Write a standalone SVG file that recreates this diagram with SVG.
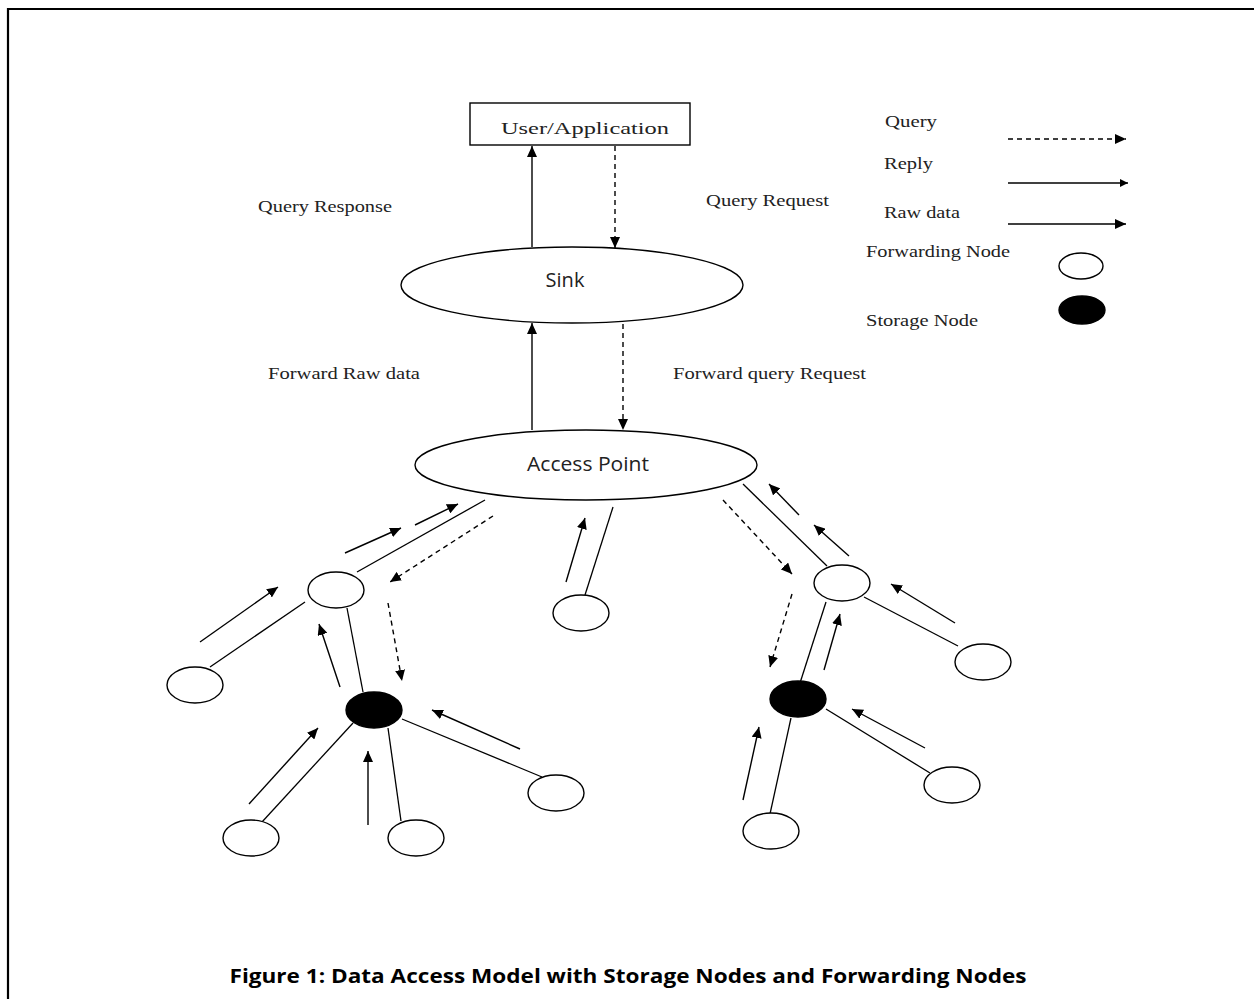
<svg xmlns="http://www.w3.org/2000/svg" width="1254" height="999" viewBox="0 0 1254 999">
<defs>
<marker id="ah" markerUnits="userSpaceOnUse" markerWidth="12" markerHeight="10" refX="11" refY="5" orient="auto">
<path d="M0,0 L11,5 L0,10 Z" fill="#000"/>
</marker>
<marker id="ahs" markerUnits="userSpaceOnUse" markerWidth="9" markerHeight="8" refX="8" refY="4" orient="auto">
<path d="M0,0 L8,4 L0,8 Z" fill="#000"/>
</marker>
</defs>
<style>
.ln{stroke:#000;stroke-width:1.3;fill:none}
.ar{stroke:#000;stroke-width:1.4;fill:none;marker-end:url(#ah)}
.das{stroke:#000;stroke-width:1.4;fill:none;stroke-dasharray:5,4;marker-end:url(#ah)}
.node{fill:#fff;stroke:#000;stroke-width:1.4}
.store{fill:#000;stroke:#000;stroke-width:1.4}
.lbl{font-family:"Liberation Serif",serif;font-size:17px;fill:#222}
.sans{font-family:"Open Sans","Liberation Sans",sans-serif;font-size:20px;fill:#222}
.cap{font-family:"Open Sans","Liberation Sans",sans-serif;font-size:20px;font-weight:bold;fill:#000}
</style>
<rect width="1254" height="999" fill="#fff"/>
<path d="M8,999 L8,9 L1254,9" fill="none" stroke="#000" stroke-width="2.2"/>

<g id="user-application">
<rect x="470" y="103" width="220" height="42" fill="#fff" stroke="#000" stroke-width="1.4"/>
<text x="585" y="134" class="lbl" font-size="21" text-anchor="middle" textLength="168" lengthAdjust="spacingAndGlyphs">User/Application</text>
</g>
<g id="sink">
<ellipse cx="572" cy="285" rx="171" ry="38" class="node"/>
<text x="565" y="287" class="sans" text-anchor="middle">Sink</text>
</g>
<g id="access-point">
<ellipse cx="586" cy="465" rx="171" ry="35" class="node"/>
<text x="588" y="471" class="sans" text-anchor="middle" textLength="122" lengthAdjust="spacingAndGlyphs">Access Point</text>
</g>

<g id="labels">
<text x="258" y="212" class="lbl" textLength="134" lengthAdjust="spacingAndGlyphs">Query Response</text>
<text x="706" y="206" class="lbl" textLength="123" lengthAdjust="spacingAndGlyphs">Query Request</text>
<text x="268" y="379" class="lbl" textLength="152" lengthAdjust="spacingAndGlyphs">Forward Raw data</text>
<text x="673" y="379" class="lbl" textLength="193" lengthAdjust="spacingAndGlyphs">Forward query Request</text>
</g>

<g id="legend">
<text x="885" y="127" class="lbl" textLength="52" lengthAdjust="spacingAndGlyphs">Query</text>
<line x1="1008" y1="139" x2="1126" y2="139" class="das"/>
<text x="884" y="169" class="lbl" textLength="49" lengthAdjust="spacingAndGlyphs">Reply</text>
<line x1="1008" y1="183" x2="1128" y2="183" stroke="#000" stroke-width="1.4" marker-end="url(#ahs)"/>
<text x="884" y="218" class="lbl" textLength="76" lengthAdjust="spacingAndGlyphs">Raw data</text>
<line x1="1008" y1="224" x2="1126" y2="224" class="ar"/>
<text x="866" y="257" class="lbl" textLength="144" lengthAdjust="spacingAndGlyphs">Forwarding Node</text>
<ellipse cx="1081" cy="266" rx="22" ry="13" class="node"/>
<text x="866" y="326" class="lbl" textLength="112" lengthAdjust="spacingAndGlyphs">Storage Node</text>
<ellipse cx="1082" cy="310" rx="23" ry="14" class="store"/>
</g>

<g id="connectors">
<line x1="532" y1="247" x2="532" y2="146" class="ar"/>
<line x1="615" y1="146" x2="615" y2="248" class="das"/>
<line x1="532" y1="430" x2="532" y2="323" class="ar"/>
<line x1="623" y1="324" x2="623" y2="430" class="das"/>
<line x1="357" y1="572" x2="485" y2="500" class="ln"/>
<line x1="305" y1="602" x2="210" y2="667" class="ln"/>
<line x1="347" y1="608" x2="363" y2="692" class="ln"/>
<line x1="402" y1="719" x2="542" y2="777" class="ln"/>
<line x1="353" y1="723" x2="262" y2="822" class="ln"/>
<line x1="388" y1="728" x2="401" y2="821" class="ln"/>
<line x1="613" y1="507" x2="585" y2="595" class="ln"/>
<line x1="415" y1="525" x2="458" y2="504" class="ar"/>
<line x1="345" y1="553" x2="401" y2="528" class="ar"/>
<line x1="493" y1="516" x2="390" y2="582" class="das"/>
<line x1="200" y1="642" x2="278" y2="587" class="ar"/>
<line x1="340" y1="687" x2="319" y2="624" class="ar"/>
<line x1="388" y1="603" x2="402" y2="681" class="das"/>
<line x1="520" y1="749" x2="432" y2="710" class="ar"/>
<line x1="249" y1="804" x2="318" y2="728" class="ar"/>
<line x1="368" y1="825" x2="368" y2="751" class="ar"/>
<line x1="566" y1="582" x2="585" y2="518" class="ar"/>
<line x1="743" y1="484" x2="827" y2="566" class="ln"/>
<line x1="864" y1="597" x2="958" y2="646" class="ln"/>
<line x1="826" y1="602" x2="800" y2="683" class="ln"/>
<line x1="826" y1="709" x2="930" y2="773" class="ln"/>
<line x1="791" y1="718" x2="770" y2="814" class="ln"/>
<line x1="799" y1="515" x2="769" y2="484" class="ar"/>
<line x1="849" y1="556" x2="814" y2="525" class="ar"/>
<line x1="723" y1="500" x2="792" y2="574" class="das"/>
<line x1="955" y1="623" x2="891" y2="584" class="ar"/>
<line x1="824" y1="670" x2="840" y2="614" class="ar"/>
<line x1="792" y1="594" x2="770" y2="667" class="das"/>
<line x1="925" y1="748" x2="852" y2="709" class="ar"/>
<line x1="743" y1="800" x2="759" y2="727" class="ar"/>
</g>

<g id="f1"><ellipse cx="336" cy="590" rx="28" ry="18" class="node"/></g>
<g id="leaf-l1"><ellipse cx="195" cy="685" rx="28" ry="18" class="node"/></g>
<g id="s1"><ellipse cx="374" cy="710" rx="28" ry="18" class="store"/></g>
<g id="leaf-l2"><ellipse cx="556" cy="793" rx="28" ry="18" class="node"/></g>
<g id="leaf-l3"><ellipse cx="251" cy="838" rx="28" ry="18" class="node"/></g>
<g id="leaf-l4"><ellipse cx="416" cy="838" rx="28" ry="18" class="node"/></g>
<g id="leaf-mid"><ellipse cx="581" cy="613" rx="28" ry="18" class="node"/></g>
<g id="f2"><ellipse cx="842" cy="583" rx="28" ry="18" class="node"/></g>
<g id="leaf-r1"><ellipse cx="983" cy="662" rx="28" ry="18" class="node"/></g>
<g id="s2"><ellipse cx="798" cy="699" rx="28" ry="18" class="store"/></g>
<g id="leaf-r2"><ellipse cx="952" cy="785" rx="28" ry="18" class="node"/></g>
<g id="leaf-r3"><ellipse cx="771" cy="831" rx="28" ry="18" class="node"/></g>

<g id="caption">
<text x="628" y="983" class="cap" text-anchor="middle" textLength="797" lengthAdjust="spacingAndGlyphs">Figure 1: Data Access Model with Storage Nodes and Forwarding Nodes</text>
</g>
</svg>
